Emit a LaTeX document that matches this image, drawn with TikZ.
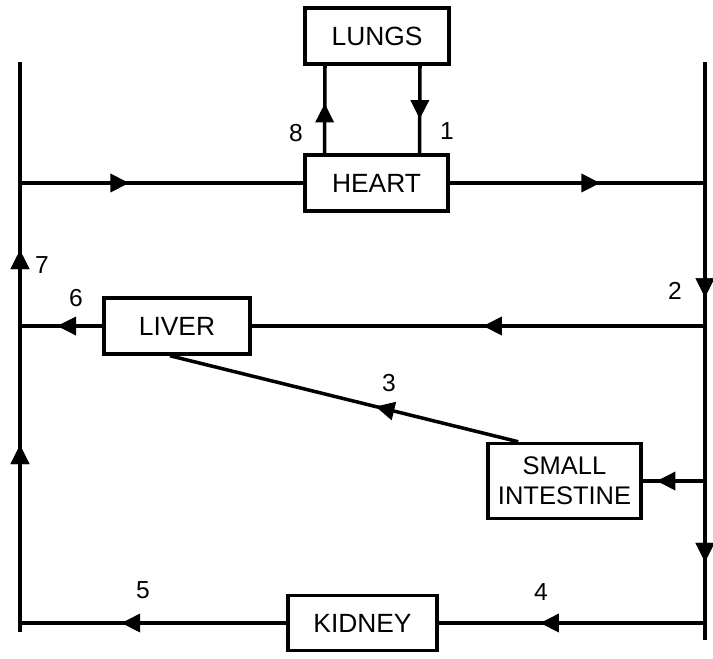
\documentclass[tikz,border=0pt]{standalone}
\usepackage{fontspec}
\setmainfont{Liberation Sans}
\usetikzlibrary{positioning, arrows.meta, decorations.markings}

\begin{document}
\begin{tikzpicture}[
    line width=2pt,
    organ/.style={draw, rectangle, minimum height=1.12cm, align=center, font=\fontsize{15}{16}\selectfont, inner sep=1pt},
    flow/.style={postaction={decorate}, decoration={markings, mark=at position #1 with {\arrow{Triangle[length=0.38cm, width=0.36cm]}}}},
    lbl/.style={font=\fontsize{14}{15}\selectfont}
  ]
  \useasboundingbox (0,0) rectangle (14.26,-13.16);

%% organs
  \node[organ, minimum width=2.88cm] (lungs) at (7.54,-0.72) {LUNGS};
  \node[organ, minimum width=2.86cm] (heart) at (7.53,-3.66) {HEART};
  \node[organ, minimum width=2.92cm] (liver) at (3.54,-6.52) {LIVER};
  \node[organ, minimum width=3.06cm, minimum height=1.5cm, font=\fontsize{14.5}{17}\selectfont] (si) at (11.29,-9.62) {SMALL\\INTESTINE};
  \node[organ, minimum width=2.98cm, minimum height=1.1cm] (kidney) at (7.25,-12.46) {KIDNEY};

%% the two main vessels
  \coordinate (ltop) at (0.4,-1.24);
  \coordinate (lbot) at (0.4,-12.64);
  \coordinate (rtop) at (14.1,-1.24);
  \coordinate (rbot) at (14.1,-12.8);
  \draw[flow=0.328, flow=0.67] (lbot) -- (ltop);
  \draw[flow=0.407, flow=0.865] (rtop) -- (rbot);

%% heart and lungs
  \draw[flow=0.57] ([xshift=-1.04cm]heart.north) -- ([xshift=-1.04cm]lungs.south);
  \draw[flow=0.61] ([xshift=0.86cm]lungs.south) -- ([xshift=0.86cm]heart.north);
  \draw[flow=0.386] (ltop |- heart.west) -- (heart.west);
  \draw[flow=0.59] (heart.east) -- (rtop |- heart.east);

%% liver and gut
  \draw[flow=0.49] (rtop |- liver.east) -- (liver.east);
  \draw[flow=0.55] (liver.west) -- (ltop |- liver.west);
  \draw[flow=0.78] (rtop |- si.east) -- (si.east);
  \draw[flow=0.41] ([xshift=0.64cm]si.north west) -- ([xshift=-0.14cm]liver.south);

%% kidney
  \draw[flow=0.62] (rtop |- kidney.east) -- (kidney.east);
  \draw[flow=0.62] (kidney.west) -- (ltop |- kidney.west);

%% numbers
  \node[lbl] (n1) at (8.94,-2.62) {1};
  \node[lbl] (n2) at (13.5,-5.82) {2};
  \node[lbl] (n3) at (7.78,-7.66) {3};
  \node[lbl] (n4) at (10.82,-11.84) {4};
  \node[lbl] (n5) at (2.86,-11.8) {5};
  \node[lbl] (n6) at (1.52,-5.96) {6};
  \node[lbl] (n7) at (0.84,-5.3) {7};
  \node[lbl] (n8) at (5.92,-2.66) {8};

\end{tikzpicture}
\end{document}
